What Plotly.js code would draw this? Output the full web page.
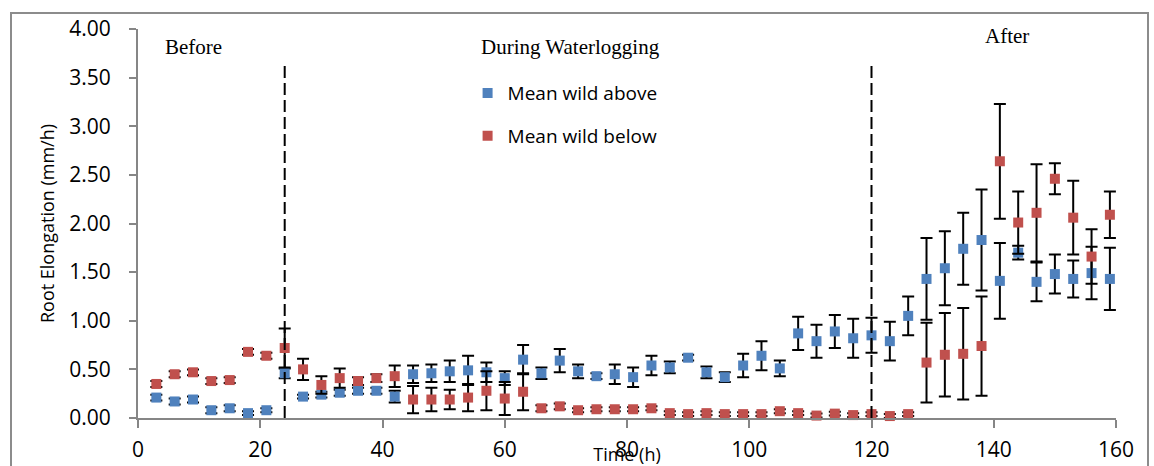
<!DOCTYPE html>
<html>
<head>
<meta charset="utf-8">
<script src="https://cdn.plot.ly/plotly-3.0.1.min.js"></script>
<style>
  html, body { margin: 0; padding: 0; background: #ffffff; }
  #wrap { position: relative; width: 1154px; height: 466px; overflow: hidden; }
  #chart { position: absolute; left: 0; top: 0; width: 1154px; height: 466px; }
  #frame { position: absolute; left: 10px; top: 12px; width: 1139px; height: 470px;
           border: 2px solid #8c8c8c; pointer-events: none; box-sizing: border-box; }
</style>
</head>
<body>
<div id="wrap">
  <div id="chart"></div>
  <div id="frame"></div>
</div>
<script>
// Sampling times (h)
const timeH = [3, 6, 9, 12, 15, 18, 21, 24, 27, 30, 33, 36, 39, 42, 45, 48, 51, 54, 57, 60,
               63, 66, 69, 72, 75, 78, 81, 84, 87, 90, 93, 96, 99, 102, 105, 108, 111, 114, 117, 120,
               123, 126, 129, 132, 135, 138, 141, 144, 147, 150, 153, 156, 159];

// Mean root elongation above the waterline (mm/h) and its error
const wildAbove = [0.21, 0.17, 0.19, 0.08, 0.10, 0.05, 0.08, 0.46, 0.22, 0.24, 0.26, 0.28, 0.28, 0.22, 0.45, 0.46, 0.48, 0.49, 0.47, 0.41,
                   0.60, 0.46, 0.59, 0.48, 0.43, 0.45, 0.42, 0.54, 0.52, 0.62, 0.47, 0.42, 0.54, 0.64, 0.51, 0.87, 0.79, 0.89, 0.82, 0.85,
                   0.79, 1.05, 1.43, 1.54, 1.74, 1.83, 1.41, 1.70, 1.40, 1.48, 1.43, 1.49, 1.43];
const wildAboveErr = [0.03, 0.03, 0.03, 0.03, 0.03, 0.02, 0.02, 0.05, 0.02, 0.03, 0.03, 0.03, 0.03, 0.06, 0.09, 0.09, 0.11, 0.15, 0.10, 0.07,
                      0.15, 0.06, 0.12, 0.07, 0.03, 0.10, 0.10, 0.10, 0.06, 0.03, 0.06, 0.05, 0.12, 0.15, 0.08, 0.17, 0.17, 0.17, 0.20, 0.18,
                      0.20, 0.20, 0.42, 0.38, 0.37, 0.52, 0.39, 0.07, 0.20, 0.20, 0.19, 0.27, 0.32];

// Mean root elongation below the waterline (mm/h) and its error
const wildBelow = [0.35, 0.45, 0.47, 0.38, 0.39, 0.68, 0.64, 0.72, 0.50, 0.34, 0.41, 0.38, 0.41, 0.43, 0.19, 0.19, 0.19, 0.21, 0.28, 0.20,
                   0.27, 0.10, 0.12, 0.08, 0.09, 0.09, 0.09, 0.10, 0.05, 0.04, 0.05, 0.04, 0.04, 0.04, 0.07, 0.05, 0.025, 0.045, 0.03, 0.04,
                   0.02, 0.04, 0.57, 0.65, 0.66, 0.74, 2.64, 2.01, 2.11, 2.46, 2.06, 1.66, 2.09];
const wildBelowErr = [0.03, 0.03, 0.03, 0.03, 0.03, 0.03, 0.03, 0.20, 0.11, 0.09, 0.10, 0.04, 0.04, 0.11, 0.14, 0.12, 0.10, 0.14, 0.20, 0.17,
                      0.19, 0.03, 0.03, 0.02, 0.02, 0.02, 0.02, 0.02, 0.02, 0.02, 0.02, 0.02, 0.02, 0.02, 0.02, 0.02, 0.02, 0.02, 0.02, 0.02,
                      0.02, 0.02, 0.41, 0.43, 0.47, 0.51, 0.59, 0.32, 0.50, 0.16, 0.38, 0.28, 0.24];

// Start and end of the waterlogging period (h)
const phaseBounds = [24, 120];
const phaseLabels = ['Before', 'During Waterlogging', 'After'];

const xTicks = [0, 20, 40, 60, 80, 100, 120, 140, 160];

const sansFont = 'Open Sans, Liberation Sans, sans-serif';
const serifFont = 'Liberation Serif, Times New Roman, serif';

function seriesTrace(name, ys, errs, color, group) {
  return {
    type: 'scatter',
    mode: 'markers',
    name: name,
    legendgroup: group,
    x: timeH,
    y: ys,
    cliponaxis: false,
    marker: { symbol: 'square', size: 10, color: color },
    error_y: { type: 'data', array: errs, visible: true, color: '#000000', thickness: 2, width: 6 }
  };
}

const traces = [
  seriesTrace('Mean wild above', wildAbove, wildAboveErr, '#4F81BD', 'a'),
  seriesTrace('Mean wild below', wildBelow, wildBelowErr, '#C0504D', 'b')
];

const boundaryLines = phaseBounds.map(t => ({
  type: 'line', xref: 'x', yref: 'y',
  x0: t, x1: t, y0: 0, y1: 3.63,
  line: { color: '#000000', width: 2, dash: '12px,5px' },
  layer: 'above'
}));

const phaseAnnotations = [
  { text: phaseLabels[0], x: 9.0, y: 3.82 },
  { text: phaseLabels[1], x: 70.8, y: 3.82 },
  { text: phaseLabels[2], x: 142.1, y: 3.93 }
].map(a => ({
  text: a.text, x: a.x, y: a.y, xref: 'x', yref: 'y',
  showarrow: false, xanchor: 'center', yanchor: 'middle',
  font: { family: serifFont, size: 21, color: '#000000' }
}));

const layout = {
  width: 1154,
  height: 466,
  margin: { l: 138, r: 38, t: 29, b: 48 },
  paper_bgcolor: '#ffffff',
  plot_bgcolor: '#ffffff',
  showlegend: true,
  legend: {
    x: 0.337, y: 0.884, xanchor: 'left', yanchor: 'top',
    bgcolor: 'rgba(0,0,0,0)',
    traceorder: 'grouped',
    tracegroupgap: 15,
    font: { family: sansFont, size: 19, color: '#000000' }
  },
  xaxis: {
    range: [0, 160],
    tickvals: xTicks,
    ticktext: xTicks.map(String),
    ticks: 'outside', ticklen: 8, tickwidth: 2, tickcolor: '#868686',
    showline: true, linecolor: '#868686', linewidth: 2,
    showgrid: false, zeroline: false,
    ticklabelstandoff: 4,
    tickfont: { family: sansFont, size: 21, color: '#000000' },
    title: { text: 'Time (h)', font: { family: sansFont, size: 18, color: '#000000' }, standoff: 0 }
  },
  yaxis: {
    range: [0, 4],
    dtick: 0.5,
    tick0: 0,
    tickformat: '.2f',
    ticks: 'outside', ticklen: 7, tickwidth: 2, tickcolor: '#868686',
    showline: true, linecolor: '#868686', linewidth: 2,
    showgrid: false, zeroline: false,
    ticklabelstandoff: 14,
    tickfont: { family: sansFont, size: 21, color: '#000000' },
    title: { text: 'Root Elongation (mm/h)', font: { family: sansFont, size: 18, color: '#000000' }, standoff: 10 }
  },
  shapes: boundaryLines,
  annotations: phaseAnnotations
};

Plotly.newPlot('chart', traces, layout, { displayModeBar: false, staticPlot: true });
</script>
</body>
</html>
